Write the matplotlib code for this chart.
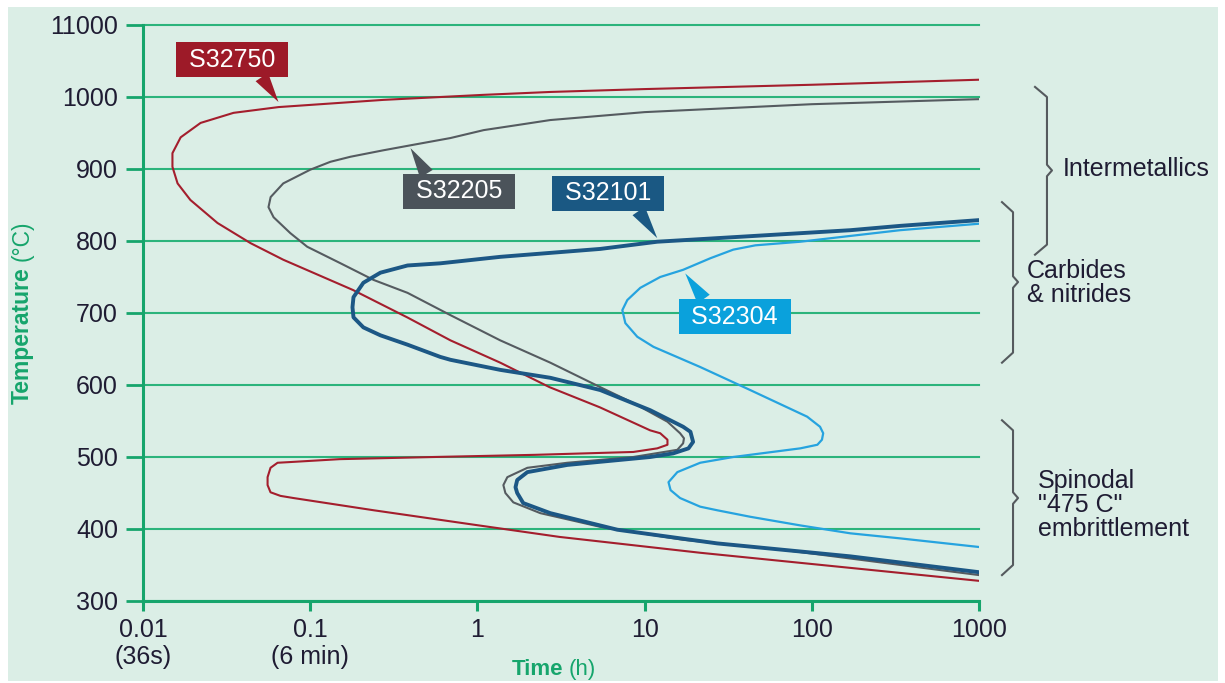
import matplotlib
matplotlib.use("Agg")
import matplotlib.pyplot as plt
from matplotlib.patches import Rectangle
from matplotlib.ticker import NullLocator

plt.rcParams['font.family'] = ['Liberation Sans', 'DejaVu Sans']

# TTT curves: time (h), temperature (C)
t_s32750 = [1000, 100, 10, 2.73, 1.09, 0.274, 0.0647, 0.0348, 0.0221, 0.0168, 0.0150,
            0.0150, 0.0161, 0.0192, 0.0279, 0.044, 0.069, 0.18, 0.38, 0.69, 1.37, 2.7,
            5.4, 10.8, 12.4, 13.7, 13.7, 11.9, 8.56, 2.2, 0.55, 0.15, 0.0762, 0.0638,
            0.0579, 0.0556, 0.0556, 0.0579, 0.0664, 0.0795, 0.24, 0.95, 3.1, 21.5, 1000]
T_s32750 = [1024, 1017, 1011, 1007, 1003, 996, 986, 978, 964, 944, 922,
            903, 880, 857, 825, 797, 774, 732, 694, 662, 631, 597,
            569, 537, 533, 524, 517, 512, 507, 503, 500, 497, 493, 492,
            485, 472, 461, 451, 446, 443, 426, 406, 389, 367, 328]

t_s32205 = [1000, 100, 10, 2.73, 1.73, 1.09, 0.69, 0.40, 0.274, 0.174, 0.132, 0.100,
            0.069, 0.058, 0.0563, 0.0604, 0.076, 0.096, 0.152, 0.239, 0.382, 0.69,
            1.37, 2.73, 5.43, 8.56, 13.7, 16.3, 17.2, 17.0, 15.7, 8.56, 3.45, 1.99,
            1.51, 1.43, 1.47, 1.64, 2.38, 5.43, 17.0, 67.5, 1000]
T_s32205 = [997, 990, 979, 968, 961, 954, 943, 933, 926, 917, 910, 899,
            880, 861, 847, 833, 811, 792, 769, 746, 728, 697,
            662, 631, 597, 575, 549, 533, 526, 519, 510, 500, 492, 485,
            472, 461, 450, 437, 422, 403, 385, 371, 336]

t_s32101 = [1000, 337, 170, 11.9, 5.43, 1.37, 0.60, 0.382, 0.263, 0.208, 0.1815,
            0.179, 0.1815, 0.208, 0.263, 0.382, 0.60, 0.69, 1.37, 2.73, 5.43, 10.8,
            17.0, 18.8, 19.5, 18.3, 14.8, 10.8, 3.45, 1.99, 1.73, 1.69, 1.73, 1.88,
            2.73, 6.87, 27.2, 170, 1000]
T_s32101 = [829, 821, 815, 799, 789, 778, 769, 766, 756, 742, 722,
            708, 694, 680, 669, 656, 639, 635, 621, 610, 593, 565,
            542, 535, 521, 512, 505, 500, 489, 479, 468, 458, 450, 436,
            422, 399, 380, 362, 340]

t_s32304 = [1000, 337, 85.3, 46.0, 33.9, 24.7, 17.0, 12.4, 9.43, 7.88, 7.36, 7.67,
            9.04, 11.3, 21.5, 42.8, 93.8, 112, 117, 115, 108, 85.3, 33.9, 21.5, 15.7,
            13.9, 14.3, 16.3, 21.5, 27.2, 42.8, 85.3, 170, 337, 1000]
T_s32304 = [824, 815, 799, 794, 788, 776, 760, 750, 735, 718, 704, 686,
            667, 653, 625, 593, 556, 542, 533, 524, 517, 512, 500, 492, 479,
            465, 454, 443, 431, 426, 417, 405, 394, 387, 375]

yticks = [300, 400, 500, 600, 700, 800, 900, 1000, 1100]
ytick_labels = ['300', '400', '500', '600', '700', '800', '900', '1000', '11000']
xticks = [0.01, 0.1, 1, 10, 100, 1000]
xtick_labels = ['0.01\n(36s)', '0.1\n(6 min)', '1', '10', '100', '1000']

GREEN = '#16a56c'
GRID = '#2cb47c'
DARK = '#1f1c33'
BRACE = '#555a5e'

fig = plt.figure(figsize=(12.25, 6.83), dpi=100)
fig.add_artist(Rectangle((8 / 1225, 2 / 683), 1210 / 1225, 674 / 683,
                         transform=fig.transFigure, fc='#dbeee6', ec='none', zorder=-10))

ax = fig.add_axes([143 / 1225, 82 / 683, 836 / 1225, 576 / 683])
ax.set_facecolor('none')
ax.set_xscale('log')
ax.set_xlim(0.01, 1000)
ax.set_ylim(300, 1100)

for s in ['top', 'right']:
    ax.spines[s].set_visible(False)
for s in ['left', 'bottom']:
    ax.spines[s].set_color(GREEN)
    ax.spines[s].set_linewidth(2.2)

ax.set_yticks(yticks)
ax.set_yticklabels(ytick_labels)
ax.set_xticks(xticks)
ax.set_xticklabels(xtick_labels)
ax.xaxis.set_minor_locator(NullLocator())
ax.tick_params(axis='y', direction='out', length=12, width=2, color=GREEN,
               pad=6, labelsize=18, labelcolor=DARK)
ax.tick_params(axis='x', direction='out', length=7, width=2.2, color=GREEN,
               pad=5, labelsize=18, labelcolor=DARK)
ax.yaxis.grid(True, color=GRID, lw=1.5)
for gl in ax.get_ygridlines():
    gl.set_clip_on(False)
ax.set_axisbelow(True)

kw = dict(solid_joinstyle='round', solid_capstyle='round')
ax.plot(t_s32750, T_s32750, color='#a41e2d', lw=1.5, **kw)
ax.plot(t_s32205, T_s32205, color='#555b60', lw=1.5, **kw)
ax.plot(t_s32101, T_s32101, color='#1c5785', lw=2.8, **kw)
ax.plot(t_s32304, T_s32304, color='#26a3df', lw=1.6, **kw)

# callout labels
callouts = [
    ('S32750', (0.0341, 1052), (0.0646, 993), '#9d1a28', (0.76, 0)),
    ('S32205', (0.775, 869), (0.398, 929), '#4b535a', (0.21, 1)),
    ('S32101', (6.03, 866), (11.9, 804), '#1a5883', (0.77, 0)),
    ('S32304', (34.6, 695), (17.5, 755), '#0aa1dc', (0.23, 1)),
]
for name, center, tip, col, rel in callouts:
    ax.annotate(' ' + name + ' ', xy=tip, xytext=center, ha='center', va='center',
                fontsize=18, color='white',
                bbox=dict(boxstyle='square,pad=0.22', fc=col, ec='none'),
                arrowprops=dict(arrowstyle='wedge,tail_width=0.6', fc=col, ec='none',
                                relpos=rel, shrinkA=0, shrinkB=0))

# braces on the right
tr = ax.get_yaxis_transform()


def brace(lo, hi, mid, x_end, x_mid, x_tip):
    xs = [x_end, x_mid, x_mid, x_tip, x_mid, x_mid, x_end]
    ys = [hi, hi - 14, mid + 8, mid, mid - 8, lo + 14, lo]
    ax.plot(xs, ys, color=BRACE, lw=1.5, transform=tr, clip_on=False)


brace(781, 1014, 898, 1.067, 1.0813, 1.0873)
brace(631, 854, 743, 1.0275, 1.0407, 1.0467)
brace(336, 551, 443, 1.0275, 1.0407, 1.0467)

ax.text(1.1005, 900, 'Intermetallics', transform=tr, fontsize=18, color=DARK,
        ha='left', va='center')
ax.text(1.0574, 742, 'Carbides\n& nitrides', transform=tr, fontsize=18, color=DARK,
        ha='left', va='center', linespacing=1.0)
ax.text(1.0706, 433, 'Spinodal\n"475 C"\nembrittlement', transform=tr, fontsize=18,
        color=DARK, ha='left', va='center', linespacing=1.0)

# axis titles
fig.text(22 / 1225, (683 - 267) / 683, 'Temperature', rotation=90, fontsize=16.5,
         fontweight='bold', color=GREEN, ha='center', va='top')
fig.text(22 / 1225, (683 - 261) / 683, '(°C)', rotation=90, fontsize=16.5,
         color=GREEN, ha='center', va='bottom')
fig.text(563 / 1225, (683 - 675) / 683, 'Time', fontsize=16, fontweight='bold',
         color=GREEN, ha='right', va='baseline')
fig.text(569 / 1225, (683 - 675) / 683, '(h)', fontsize=16, color=GREEN,
         ha='left', va='baseline')

fig.savefig('out.png', dpi=100, facecolor='white')
